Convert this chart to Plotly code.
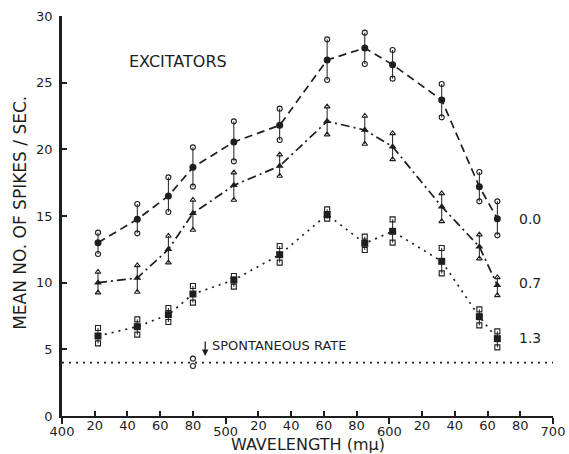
import plotly.graph_objects as go

# wavelengths (m-mu)
wavelength = [422, 446, 465, 480, 505, 533, 562, 585, 602, 632, 655, 666]

# series 0.0 (circles)
s00_mean = [13.0, 14.75, 16.5, 18.65, 20.55, 21.8, 26.7, 27.6, 26.35, 23.7, 17.2, 14.8]
s00_hi = [13.75, 15.9, 17.9, 20.15, 22.1, 23.05, 28.25, 28.75, 27.45, 24.9, 18.3, 16.1]
s00_lo = [12.15, 13.7, 15.3, 17.2, 19.1, 20.7, 25.2, 26.4, 25.3, 22.4, 16.1, 13.55]

# series 0.7 (triangles)
s07_mean = [10.0, 10.35, 12.5, 15.2, 17.3, 18.75, 22.1, 21.45, 20.2, 15.7, 12.7, 9.8]
s07_hi = [10.8, 11.3, 13.5, 16.2, 18.25, 19.6, 23.2, 22.5, 21.2, 16.7, 13.6, 10.4]
s07_lo = [9.25, 9.3, 11.5, 13.95, 16.2, 18.0, 21.1, 20.4, 19.25, 14.6, 11.8, 9.05]

# series 1.3 (squares)
s13_mean = [6.0, 6.7, 7.6, 9.15, 10.2, 12.1, 15.1, 12.95, 13.85, 11.6, 7.45, 5.8]
s13_hi = [6.6, 7.25, 8.1, 9.75, 10.5, 12.75, 15.5, 13.45, 14.75, 12.6, 8.0, 6.35]
s13_lo = [5.45, 6.1, 7.05, 8.5, 9.7, 11.5, 14.8, 12.45, 13.0, 10.7, 6.8, 5.15]

# spontaneous rate
spont_x = [400, 700]
spont_y = [4.0, 4.0]
spont_pt_x = [480]
spont_pt_hi = [4.3]
spont_pt_lo = [3.75]

series_labels = ["0.0", "0.7", "1.3"]
label_y = [14.75, 9.95, 5.85]

x_major = [400, 500, 600, 700]
x_minor = [v for v in range(420, 700, 20) if v % 100 != 0]
x_minor_text = [str(v % 100) for v in x_minor]
y_ticks = [0, 5, 10, 15, 20, 25, 30]

INK = "#1e1e1e"
FONT = "DejaVu Sans"

fig = go.Figure()

specs = [
    (s00_mean, s00_hi, s00_lo, "circle", "8px,5px"),
    (s07_mean, s07_hi, s07_lo, "triangle-up", "9px,4px,2px,4px"),
    (s13_mean, s13_hi, s13_lo, "square", "2px,5px"),
]

for mean, hi, lo, sym, dash in specs:
    fig.add_trace(go.Scatter(
        x=wavelength, y=mean, mode="lines+markers",
        line=dict(color=INK, width=1.7, dash=dash),
        marker=dict(symbol=sym, size=7, color=INK),
        error_y=dict(type="data", symmetric=False,
                     array=[h - m for h, m in zip(hi, mean)],
                     arrayminus=[m - l for m, l in zip(mean, lo)],
                     color=INK, thickness=1, width=0),
        showlegend=False, hoverinfo="skip"))
    fig.add_trace(go.Scatter(
        x=wavelength + wavelength, y=hi + lo, mode="markers",
        marker=dict(symbol=sym + "-open", size=5, color=INK, line=dict(width=1.1)),
        showlegend=False, hoverinfo="skip"))

fig.add_trace(go.Scatter(
    x=spont_x, y=spont_y, mode="lines",
    line=dict(color=INK, width=1.6, dash="2px,5px"),
    showlegend=False, hoverinfo="skip"))
fig.add_trace(go.Scatter(
    x=spont_pt_x + spont_pt_x, y=spont_pt_hi + spont_pt_lo, mode="markers",
    marker=dict(symbol="circle-open", size=5, color=INK, line=dict(width=1.1)),
    showlegend=False, hoverinfo="skip"))

# minor-tick axis (20, 40, ...)
fig.add_trace(go.Scatter(x=[400, 700], y=[0, 0], xaxis="x2", mode="markers",
                         marker=dict(opacity=0), showlegend=False, hoverinfo="skip"))

for lab, yv in zip(series_labels, label_y):
    fig.add_annotation(x=678, y=yv, text=lab, showarrow=False, xanchor="left",
                       font=dict(family=FONT, size=14, color=INK))

fig.add_annotation(x=471, y=26.6, text="EXCITATORS", showarrow=False,
                   font=dict(family=FONT, size=16, color=INK))
fig.add_annotation(x=490.5, y=5.3, text="SPONTANEOUS RATE", showarrow=False,
                   xanchor="left", font=dict(family=FONT, size=13, color=INK))
fig.add_annotation(x=487.5, y=4.5, ax=487.5, ay=5.7, axref="x", ayref="y",
                   text="", showarrow=True, arrowhead=2, arrowsize=1,
                   arrowwidth=1.3, arrowcolor=INK)

fig.add_annotation(xref="paper", yref="paper", x=-0.0855, y=0.508,
                   xanchor="center", yanchor="middle",
                   text="MEAN NO. OF SPIKES / SEC.", textangle=-90, showarrow=False,
                   font=dict(family=FONT, size=17, color=INK))
fig.add_annotation(xref="paper", yref="paper", x=0.5, y=-0.072, yanchor="middle",
                   text="WAVELENGTH (m\u03bc)", showarrow=False,
                   font=dict(family=FONT, size=16, color=INK))

fig.update_layout(
    width=569, height=454,
    margin=dict(l=62, r=16, t=16, b=38, autoexpand=False),
    paper_bgcolor="white", plot_bgcolor="rgba(0,0,0,0)",
    font=dict(family=FONT, color=INK),
    xaxis=dict(range=[400, 700], tickvals=x_major, ticktext=[str(v) for v in x_major],
               ticks="outside", ticklen=6, tickwidth=1.5, tickcolor=INK,
               showline=True, linewidth=2.2, linecolor=INK, showgrid=False,
               zeroline=False, ticklabelstandoff=-4, automargin=False,
               tickfont=dict(family=FONT, size=13, color=INK)),
    xaxis2=dict(range=[400, 700], overlaying="x", side="bottom", anchor="y",
                tickvals=x_minor, ticktext=x_minor_text,
                ticks="inside", ticklen=5, tickwidth=1.5, tickcolor=INK,
                showline=False, showgrid=False, zeroline=False,
                ticklabelstandoff=0, automargin=False,
                tickfont=dict(family=FONT, size=13, color=INK)),
    yaxis=dict(range=[0, 30], tickvals=y_ticks, ticks="inside", ticklen=5,
               tickwidth=1.5, tickcolor=INK, showline=True, linewidth=2.5,
               linecolor=INK, showgrid=False, zeroline=False, automargin=False,
               ticklabelstandoff=4,
               tickfont=dict(family=FONT, size=13, color=INK)),
)

fig.write_html(
    "out.html",
    config={"displayModeBar": False},
    post_script="document.body.style.margin='0';document.body.style.overflow='hidden';",
)
